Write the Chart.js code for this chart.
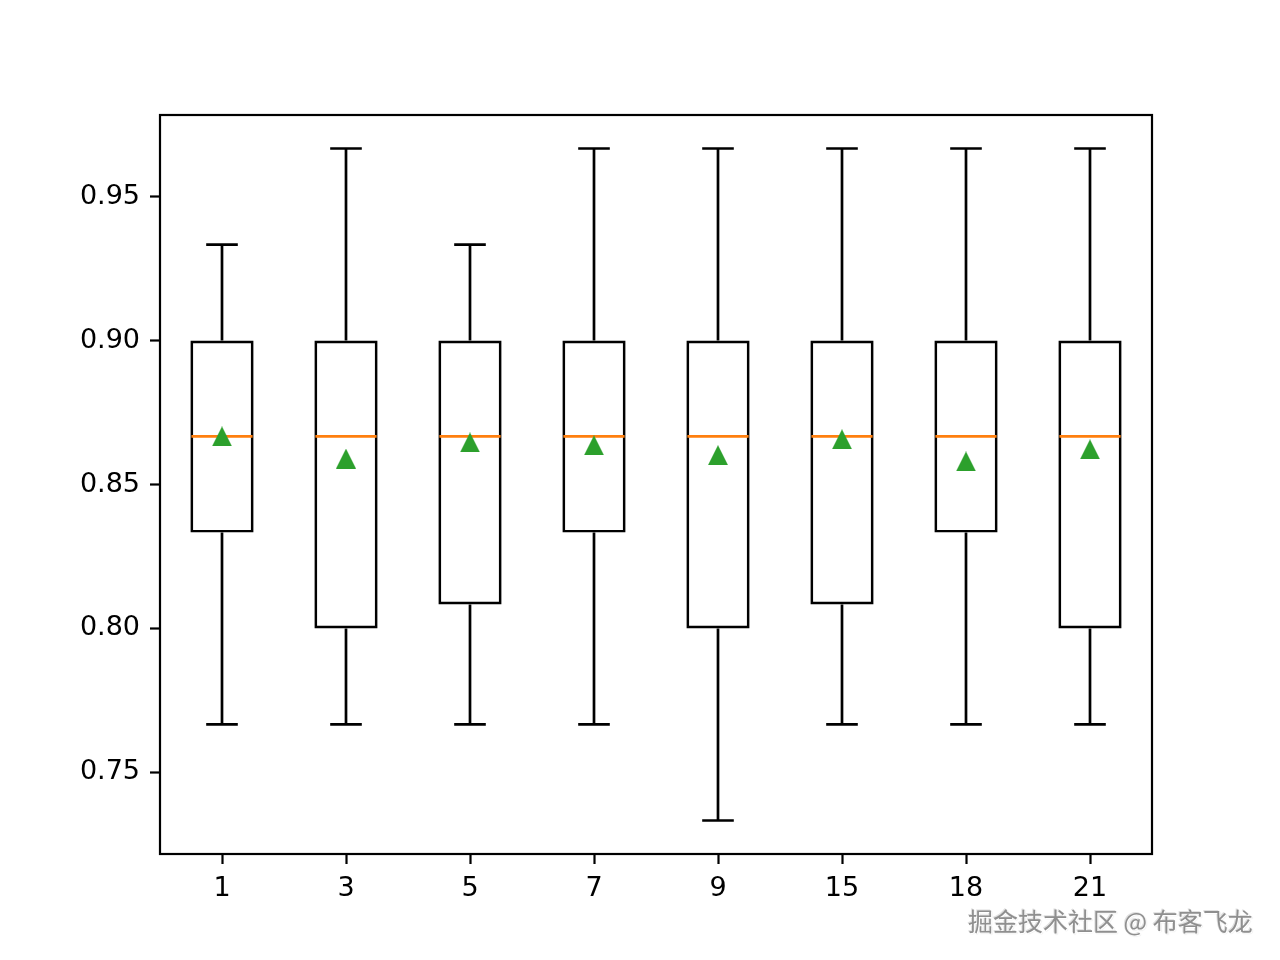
<!DOCTYPE html>
<html>
<head>
<meta charset="utf-8">
<script src="https://cdn.jsdelivr.net/npm/chart.js@4.4.0/dist/chart.umd.min.js"></script>
<style>
    html, body { margin: 0; padding: 0; background: #fff; }
    #wrap { position: relative; width: 1280px; height: 960px; }
    #mark {
        position: absolute; left: 968px; top: 902px;
        font-family: "Noto Sans CJK SC", sans-serif; font-size: 25px;
        color: #8f8f8f; text-shadow: 1px 1px 0 #fff, -1px -1px 0 #e0e0e0, 1px 1px 1px #ccc;
        white-space: nowrap;
    }
</style>
</head>
<body>
<div id="wrap">
    <canvas id="chart"></canvas>
    <div id="mark">掘金技术社区 @ 布客飞龙</div>
</div>
<script>
const categories = ["1", "3", "5", "7", "9", "15", "18", "21"];
const whiskerLow = [0.7667, 0.7667, 0.7667, 0.7667, 0.7333, 0.7667, 0.7667, 0.7667];
const q1 = [0.8333, 0.8, 0.8083, 0.8333, 0.8, 0.8083, 0.8333, 0.8];
const medians = [0.8667, 0.8667, 0.8667, 0.8667, 0.8667, 0.8667, 0.8667, 0.8667];
const q3 = [0.9, 0.9, 0.9, 0.9, 0.9, 0.9, 0.9, 0.9];
const whiskerHigh = [0.9333, 0.9667, 0.9333, 0.9667, 0.9667, 0.9667, 0.9667, 0.9667];
const means = [0.8667, 0.859, 0.8646, 0.8636, 0.8602, 0.8657, 0.858, 0.8622];
const yTicks = [0.75, 0.8, 0.85, 0.9, 0.95];

// matplotlib style "^" marker, centred on its bounding box
function triangleMarker() {
    const c = document.createElement("canvas");
    c.width = 20;
    c.height = 20;
    const g = c.getContext("2d");
    g.fillStyle = "#2ca02c";
    g.beginPath();
    g.moveTo(10, 0);
    g.lineTo(20, 20);
    g.lineTo(0, 20);
    g.closePath();
    g.fill();
    return c;
}

// whiskers, caps and medians, drawn on top of the boxes
const whiskerPlugin = {
    id: "whiskers",
    afterDatasetDraw(chart, args) {
        if (args.index !== 0) return;
        const ctx = chart.ctx;
        const y = chart.scales.y;
        const bars = chart.getDatasetMeta(0).data;
        ctx.save();
        ctx.lineWidth = 2.7;
        bars.forEach((bar, i) => {
            const cap = bar.width / 4;
            ctx.strokeStyle = "#000";
            ctx.beginPath();
            ctx.moveTo(bar.x, y.getPixelForValue(q3[i]));
            ctx.lineTo(bar.x, y.getPixelForValue(whiskerHigh[i]));
            ctx.moveTo(bar.x - cap, y.getPixelForValue(whiskerHigh[i]));
            ctx.lineTo(bar.x + cap, y.getPixelForValue(whiskerHigh[i]));
            ctx.moveTo(bar.x, y.getPixelForValue(q1[i]));
            ctx.lineTo(bar.x, y.getPixelForValue(whiskerLow[i]));
            ctx.moveTo(bar.x - cap, y.getPixelForValue(whiskerLow[i]));
            ctx.lineTo(bar.x + cap, y.getPixelForValue(whiskerLow[i]));
            ctx.stroke();

            ctx.strokeStyle = "#ff7f0e";
            ctx.beginPath();
            ctx.moveTo(bar.x - bar.width / 2 + 1, y.getPixelForValue(medians[i]));
            ctx.lineTo(bar.x + bar.width / 2 - 1, y.getPixelForValue(medians[i]));
            ctx.stroke();
        });
        ctx.restore();
    },
    afterDraw(chart) {
        const a = chart.chartArea;
        const ctx = chart.ctx;
        ctx.save();
        ctx.strokeStyle = "#000";
        ctx.lineWidth = 2.2;
        ctx.strokeRect(a.left, a.top, a.right - a.left, a.bottom - a.top);
        ctx.restore();
    }
};

const tickFont = { family: "DejaVu Sans", size: 27 };

new Chart(document.getElementById("chart"), {
    type: "bar",
    data: {
        labels: categories,
        datasets: [
            {
                data: categories.map((c, i) => [q1[i], q3[i]]),
                backgroundColor: "rgba(0,0,0,0)",
                borderColor: "#000",
                borderWidth: 2.7,
                borderSkipped: false,
                barPercentage: 0.51,
                categoryPercentage: 1,
                order: 2
            },
            {
                type: "line",
                data: means,
                showLine: false,
                pointStyle: triangleMarker(),
                pointRadius: 10,
                order: 0
            }
        ]
    },
    options: {
        responsive: true,
        maintainAspectRatio: false,
        animation: false,
        layout: { padding: { left: 0, top: 115, right: 128, bottom: 0 } },
        plugins: { legend: { display: false }, tooltip: { enabled: false } },
        scales: {
            x: {
                border: { display: false },
                grid: {
                    offset: false,
                    drawOnChartArea: false,
                    tickLength: 10,
                    tickWidth: 2.2,
                    tickColor: "#000"
                },
                ticks: { color: "#000", font: tickFont, padding: 9, maxRotation: 0 },
                afterFit(scale) { scale.height = 106; }
            },
            y: {
                min: 0.72167,
                max: 0.97833,
                border: { display: false },
                grid: {
                    drawOnChartArea: false,
                    tickLength: 10,
                    tickWidth: 2.2,
                    tickColor: "#000"
                },
                ticks: {
                    color: "#000",
                    font: tickFont,
                    padding: 10,
                    callback: (v) => v.toFixed(2)
                },
                afterBuildTicks(scale) {
                    scale.ticks = yTicks.map((v) => ({ value: v }));
                },
                afterFit(scale) { scale.width = 160; }
            }
        }
    },
    plugins: [whiskerPlugin]
});
</script>
</body>
</html>
